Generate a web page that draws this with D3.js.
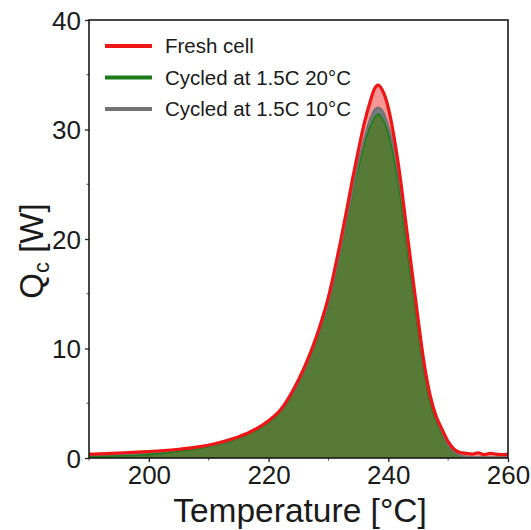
<!DOCTYPE html>
<html>
<head>
<meta charset="utf-8">
<script src="https://cdn.jsdelivr.net/npm/d3@7"></script>
<style>
  html, body { margin: 0; padding: 0; background: #fff; }
  svg { display: block; font-family: "Liberation Sans", Arial, sans-serif; }
</style>
</head>
<body>
<svg id="chart" width="531" height="530"></svg>
<script>
// Temperature grid [°C]
const temps = [190,193,196,199,202,205,208,211,214,217,220,222,224,226,228,229,230,231,232,233,234,235,236,237,237.6,238.3,239,240,241,242,243,244,245,246,247,248,249,250,251,252,253,254,255,256,257,258,259,260];

// Heat generation Q_c [W]
const freshCell = [0.35,0.40,0.48,0.56,0.66,0.80,1.00,1.30,1.75,2.40,3.40,4.40,6.10,8.30,11.1,12.8,14.7,17.1,19.7,22.5,25.4,28.1,30.6,32.6,33.6,34.05,33.6,32.0,29.2,25.6,21.2,16.9,12.6,8.6,5.7,3.8,2.6,1.5,0.8,0.5,0.42,0.35,0.48,0.30,0.42,0.36,0.30,0.35];
const cycled20 = [0.12,0.15,0.20,0.28,0.40,0.60,0.85,1.15,1.60,2.25,3.20,4.20,5.80,7.90,10.6,12.2,14.0,16.3,18.8,21.4,24.0,26.5,28.6,30.3,31.0,31.4,31.0,29.6,27.2,23.8,19.6,15.5,11.5,7.7,5.0,3.3,2.1,1.1,0.5,0.2,0.1,0.05,0.05,0.05,0.05,0.05,0.05,0.05];
const cycled10 = [0.33,0.38,0.45,0.53,0.63,0.77,0.97,1.25,1.70,2.35,3.30,4.30,5.90,8.00,10.8,12.4,14.2,16.5,19.0,21.7,24.4,27.0,29.2,31.0,31.7,32.0,31.7,30.3,28.0,24.8,20.6,16.4,12.2,8.2,5.4,3.6,2.3,1.2,0.55,0.25,0.12,0.08,0.05,0.05,0.05,0.05,0.05,0.05];

const xTicks = [200, 220, 240, 260];
const yTicks = [0, 10, 20, 30, 40];

const series = [
  { name: "Fresh cell",               values: freshCell, line: "#ee1515", fill: "rgba(238,80,80,0.6)",    width: 3.2 },
  { name: "Cycled at 1.5C 20\u00B0C", values: cycled20,  line: "#1a7d1a", fill: "#577b36",                width: 1.6 },
  { name: "Cycled at 1.5C 10\u00B0C", values: cycled10,  line: "#737373", fill: "rgba(115,120,130,0.95)", width: 2.2 }
];

const svg = d3.select("#chart");
const margin = { left: 89, right: 23, top: 20, bottom: 72 };
const W = 531, H = 530;

const x = d3.scaleLinear().domain([190, 260]).range([margin.left, W - margin.right]);
const y = d3.scaleLinear().domain([0, 40]).range([H - margin.bottom, margin.top]);

svg.append("clipPath").attr("id", "plotclip")
  .append("rect")
  .attr("x", x(190)).attr("y", y(40))
  .attr("width", x(260) - x(190)).attr("height", y(0) - y(40));

const plot = svg.append("g").attr("clip-path", "url(#plotclip)");

const area = vals => d3.area()
  .x((d, i) => x(temps[i]))
  .y0(y(0))
  .y1((d, i) => y(vals[i]))
  .curve(d3.curveMonotoneX)(vals);

const line = vals => d3.line()
  .x((d, i) => x(temps[i]))
  .y((d, i) => y(vals[i]))
  .curve(d3.curveMonotoneX)(vals);

// fills: fresh underneath, then 10°C, then 20°C on top
[series[0], series[2], series[1]].forEach(s => {
  plot.append("path").attr("d", area(s.values)).attr("fill", s.fill).attr("stroke", "none");
});
// outlines
[series[1], series[2], series[0]].forEach(s => {
  plot.append("path").attr("d", line(s.values))
    .attr("fill", "none").attr("stroke", s.line)
    .attr("stroke-width", s.width).attr("stroke-linejoin", "round");
});

// axes
const xAxis = d3.axisBottom(x).tickValues(xTicks).tickSize(4).tickPadding(4).tickFormat(d3.format("d"));
const yAxis = d3.axisLeft(y).tickValues(yTicks).tickSize(4).tickPadding(4).tickFormat(d3.format("d"));

const gx = svg.append("g").attr("transform", `translate(0,${y(0)})`).call(xAxis);
const gy = svg.append("g").attr("transform", `translate(${x(190)},0)`).call(yAxis);
[gx, gy].forEach(g => {
  g.select(".domain").remove();
  g.selectAll("line").attr("stroke", "#222").attr("stroke-width", 1.3);
  g.selectAll("text").attr("fill", "#1a1a1a").attr("font-size", 26).attr("font-family", "Liberation Sans, Arial, sans-serif");
});
gx.selectAll("text").attr("dy", "0.71em");
gy.selectAll("text").attr("dy", "0.36em");

// minor ticks
const minorX = d3.range(190, 261, 10).filter(v => !xTicks.includes(v));
svg.append("g").selectAll("line").data(minorX).join("line")
  .attr("x1", d => x(d)).attr("x2", d => x(d))
  .attr("y1", y(0)).attr("y2", y(0) + 2.5)
  .attr("stroke", "#444").attr("stroke-width", 1);
const minorY = d3.range(0, 41, 5).filter(v => !yTicks.includes(v));
svg.append("g").selectAll("line").data(minorY).join("line")
  .attr("x1", x(190) - 2.5).attr("x2", x(190))
  .attr("y1", d => y(d)).attr("y2", d => y(d))
  .attr("stroke", "#444").attr("stroke-width", 1);

// frame
svg.append("rect")
  .attr("x", x(190)).attr("y", y(40))
  .attr("width", x(260) - x(190)).attr("height", y(0) - y(40))
  .attr("fill", "none").attr("stroke", "#1a1a1a").attr("stroke-width", 1.6);

// axis titles
svg.append("text")
  .attr("x", 300).attr("y", 522)
  .attr("text-anchor", "middle").attr("font-size", 33.5).attr("fill", "#1a1a1a")
  .text("Temperature [\u00B0C]");

const yl = svg.append("text")
  .attr("transform", `translate(43,251) rotate(-90)`)
  .attr("text-anchor", "middle").attr("font-size", 33).attr("fill", "#1a1a1a");
yl.append("tspan").text("Q");
yl.append("tspan").attr("font-size", 22).attr("dy", 6).text("c");
yl.append("tspan").attr("dy", -6).text(" [W]");

// legend
const legend = svg.append("g");
series.forEach((s, i) => {
  const ly = 46 + i * 31.5;
  legend.append("line")
    .attr("x1", 105).attr("x2", 152).attr("y1", ly).attr("y2", ly)
    .attr("stroke", s.line).attr("stroke-width", 4);
  legend.append("text")
    .attr("x", 165).attr("y", ly + 7)
    .attr("font-size", 20.5).attr("fill", "#1a1a1a")
    .text(s.name);
});
</script>
</body>
</html>
